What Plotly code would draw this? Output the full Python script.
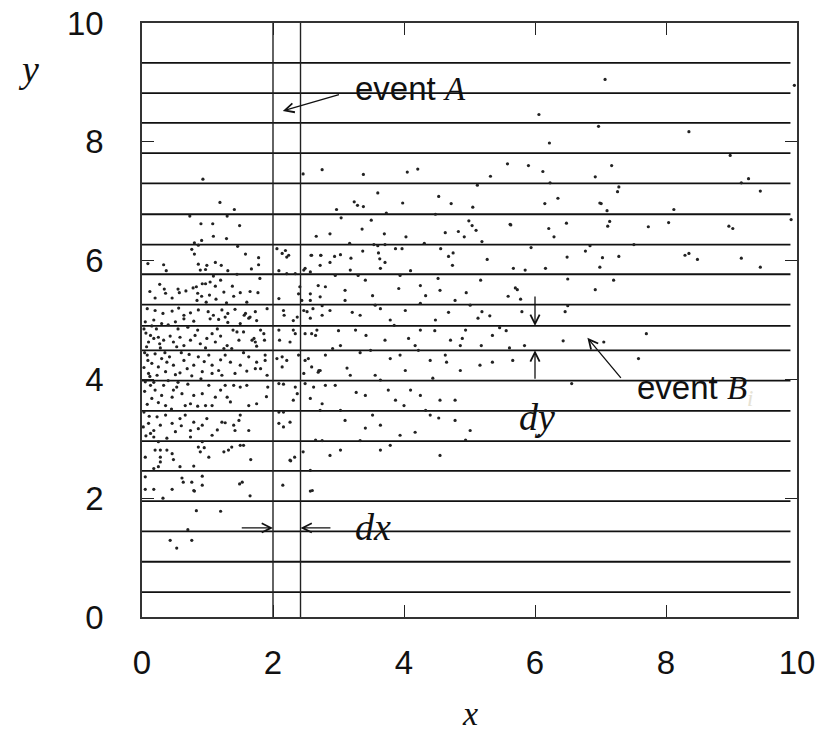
import plotly.graph_objects as go

# ---------------- data ----------------
# horizontal band boundaries (y values)
band_levels = [0.42, 0.93, 1.44, 1.95, 2.46, 2.96, 3.47, 3.98, 4.49, 4.90,
               5.26, 5.77, 6.27, 6.78, 7.30, 7.81, 8.32, 8.82, 9.33]
band_x_range = [0.0, 9.9]
# vertical strip boundaries (x values)
strip_levels = [2.0, 2.42]

x_ticks = [0, 2, 4, 6, 8, 10]
y_ticks = [0, 2, 4, 6, 8, 10]

# scatter dots (x, y)
dots = [
    (0.93,7.37),(1.19,6.98),(1.41,6.86),(0.73,6.75),(1.30,6.75),(0.90,6.62),(1.08,6.62),(1.49,6.59),
    (1.09,6.41),(1.29,6.37),(0.91,6.34),(0.80,6.30),(0.86,6.26),(1.46,6.24),(0.76,6.19),(0.80,6.11),
    (1.58,6.11),(1.78,6.05),(0.09,5.95),(0.33,5.93),(0.86,5.94),(0.99,5.92),(1.12,5.97),(1.21,5.92),
    (0.37,5.83),(0.89,5.84),(0.97,5.85),(1.31,5.83),(1.67,5.86),(1.78,5.93),(1.09,5.74),(1.45,5.77),
    (0.27,5.60),(0.12,5.48),(0.20,5.37),(0.34,5.52),(0.36,5.45),(0.46,5.37),(0.55,5.52),(0.57,5.46),
    (0.67,5.49),(0.78,5.54),(0.83,5.56),(0.92,5.61),(0.97,5.61),(1.04,5.64),(1.12,5.57),(1.20,5.67),
    (0.85,5.45),(0.91,5.40),(1.03,5.42),(1.13,5.35),(1.25,5.47),(1.38,5.57),(1.40,5.40),(1.50,5.46),
    (1.65,5.48),(1.77,5.46),(0.84,5.33),(0.98,5.30),(1.29,5.29),(1.60,5.30),(0.08,5.19),(0.20,5.16),
    (0.32,5.11),(0.46,5.15),(0.56,5.20),(0.64,5.08),(0.74,5.12),(0.86,5.17),(1.01,5.14),(1.09,5.08),
    (1.22,5.17),(1.31,5.11),(1.42,5.18),(1.56,5.08),(1.73,5.14),
    (0.05,4.97),(0.18,5.00),(0.30,4.94),(0.51,4.97),(0.64,5.02),(0.79,4.98),(1.04,5.02),(1.17,5.01),
    (1.27,5.05),(1.31,4.96),(1.50,4.94),(1.63,5.03),
    (0.13,4.74),(0.18,4.69),(0.10,4.63),(0.25,4.71),(0.33,4.66),(0.43,4.73),(0.48,4.63),(0.58,4.71),
    (0.64,4.57),(0.74,4.66),(0.81,4.74),(0.89,4.60),(0.99,4.69),(1.07,4.77),(1.12,4.63),(1.20,4.73),
    (1.30,4.57),(1.39,4.83),(1.48,4.66),(1.55,4.80),(1.68,4.66),(1.75,4.56),(0.07,4.55),(0.28,4.53),
    (0.53,4.55),(0.97,4.53),(1.25,4.52),(1.37,4.52),
    (0.08,4.41),(0.20,4.43),(0.30,4.35),(0.15,4.27),(0.25,4.21),(0.38,4.29),(0.48,4.24),(0.64,4.32),
    (0.69,4.18),(0.79,4.24),(0.86,4.38),(1.02,4.41),(1.07,4.24),(1.17,4.15),(1.27,4.41),(1.35,4.29),
    (1.50,4.24),(1.63,4.38),(1.75,4.29),(0.10,4.10),(0.23,4.07),(0.36,4.13),(0.51,4.08),(0.58,4.11),
    (0.76,4.06),(0.92,4.13),(1.07,4.10),(1.22,4.07),(1.42,4.10),(1.60,4.14),(1.73,4.18),(0.90,4.01),
    (0.05,3.96),(0.13,3.90),(0.20,3.82),(0.30,3.73),(0.15,3.68),(0.25,3.61),(0.36,3.56),(0.46,3.70),
    (0.53,3.87),(0.61,3.76),(0.66,3.56),(0.74,3.59),(0.79,3.73),(0.92,3.76),(0.97,3.56),(1.02,3.90),
    (1.07,3.56),(1.20,3.82),(1.27,3.90),(1.30,3.70),(1.40,3.90),(1.50,3.87),(1.60,3.90),(1.63,3.56),
    (0.33,3.90),(0.48,3.82),
    (0.10,3.26),(0.18,3.14),(0.13,3.09),(0.23,3.37),(0.28,3.23),(0.36,3.40),(0.46,3.26),(0.51,3.12),
    (0.58,3.34),(0.66,3.40),(0.74,3.14),(0.79,3.28),(0.86,3.17),(0.92,3.23),(0.99,3.34),(1.07,3.06),
    (1.22,3.28),(1.27,3.27),(1.40,3.23),(1.48,3.31),(1.50,3.40),(1.42,3.14),(1.63,3.14),(0.74,3.03),
    (0.38,3.01),(0.18,3.03),
    (0.05,2.69),(0.20,2.81),(0.28,2.81),(0.28,2.69),(0.38,2.81),(0.46,2.75),(0.48,2.65),(0.28,2.61),
    (0.25,2.53),(0.18,2.50),(0.58,2.53),(0.79,2.54),(0.86,2.86),(0.89,2.78),(0.92,2.95),(1.02,2.69),
    (1.25,2.78),(1.32,2.81),(1.37,2.86),(1.50,2.89),(1.55,2.89),(1.66,2.65),
    (0.05,2.36),(0.05,2.15),(0.18,2.15),(0.32,2.00),(0.46,2.15),(0.61,2.34),(0.63,2.27),(0.76,2.27),
    (0.79,2.13),(0.80,2.12),(0.92,2.37),(0.92,2.22),(1.49,2.24),(1.53,2.27),(1.65,2.04),
    (0.83,1.79),(1.20,1.78),(0.70,1.47),(0.43,1.29),(0.76,1.29),(0.53,1.16),
    # dense left edge of the cluster
    (0.03,4.85),(0.06,4.78),(0.04,4.45),(0.09,4.32),(0.03,4.20),(0.12,4.05),(0.04,3.80),(0.08,3.58),
    (0.03,3.45),(0.11,3.38),(0.02,3.20),(0.06,3.05),(0.15,4.90),(0.22,4.85),(0.27,4.60),(0.35,4.45),
    (0.40,4.92),(0.42,4.38),(0.55,4.85),(0.60,4.45),(0.70,4.88),(0.72,4.42),(0.85,4.83),(0.95,4.30),
    (1.15,4.85),(1.20,4.33),(1.45,4.80),(1.55,4.45),(0.18,3.95),(0.40,3.98),(0.55,3.95),(0.70,3.92),
    (0.85,3.55),(1.12,3.70),(1.35,3.62),(0.45,3.50),(0.60,3.22),(0.25,2.95),(1.15,3.15),(0.95,2.85),
    # strip x 1.8 - 2.9
    (2.06,6.20),(2.14,6.12),(2.19,6.17),(2.24,6.09),(2.21,6.06),(2.59,6.09),(2.73,6.09),(2.47,5.84),
    (2.57,5.81),(2.34,5.78),(2.21,5.78),(2.09,5.83),(1.80,5.70),(2.41,5.56),(2.39,5.44),(2.57,5.44),
    (2.72,5.39),(2.44,5.33),(2.09,5.36),(2.80,5.56),(2.16,5.16),(2.17,5.08),(1.91,5.19),(2.47,5.16),
    (2.52,5.14),(2.61,5.19),(2.75,5.08),(2.37,5.05),(2.31,4.99),(1.75,4.99),(1.58,5.11),(1.65,5.05),
    (2.09,4.83),(2.31,4.83),(2.34,4.77),(2.26,4.63),(2.10,4.66),(2.49,4.77),(2.59,4.77),(2.67,4.83),
    (1.87,4.66),(1.86,4.77),(1.81,4.83),(1.71,4.69),(1.73,4.63),(2.06,4.35),(2.14,4.38),(2.21,4.32),
    (2.39,4.41),(2.54,4.35),(2.59,4.21),(2.70,4.15),(2.80,4.41),(2.14,4.21),(2.47,4.10),(1.88,4.41),
    (1.88,4.32),(1.81,4.18),(1.91,4.07),(2.09,3.93),(2.16,3.92),(2.34,3.87),(2.37,3.76),(2.31,3.65),
    (2.49,3.93),(2.62,3.87),(2.75,3.59),(1.92,3.87),(1.90,3.71),(1.75,3.59),(2.09,3.45),(2.16,3.45),
    (2.09,3.26),(2.16,3.20),(2.26,3.28),(2.75,2.97),(2.26,2.64),(2.33,2.69),(2.46,2.78),(2.27,2.63),
    (2.15,2.22),(2.57,2.12),
    # middle region x 2.5 - 5.2
    (2.72,5.92),(2.95,5.75),(3.18,5.84),(3.41,5.67),(3.64,5.87),(3.94,5.75),(4.25,5.58),(4.55,5.50),
    (4.78,5.33),(5.01,5.25),(2.57,5.33),(2.87,5.16),(3.10,5.33),(3.33,5.08),(3.56,5.25),(3.79,5.00),
    (4.02,5.16),(4.25,4.83),(4.48,5.00),(4.71,4.66),(4.94,4.83),(2.65,4.74),(3.03,4.57),(3.26,4.83),
    (3.49,4.49),(3.71,4.66),(3.94,4.41),(4.17,4.57),(4.40,4.32),(4.63,4.41),(4.86,4.15),(5.16,4.24),
    (2.72,4.15),(2.95,3.90),(3.18,4.07),(3.41,3.73),(3.64,3.99),(3.87,3.65),(4.10,3.82),(4.33,3.48),
    (4.55,3.65),(4.78,3.31),(5.01,3.14),(2.72,3.48),(3.10,3.31),(3.33,2.97),(3.64,3.23),(3.94,3.06),
    (4.40,3.40),(3.64,2.81),(2.87,2.72),(2.60,2.13),(2.57,2.47),
    (2.49,5.87),(2.69,5.58),(2.87,5.97),(3.10,5.50),(3.30,5.75),(3.52,5.41),(3.71,5.97),(3.92,5.53),
    (4.10,5.83),(4.33,5.41),(4.52,5.70),(4.74,5.92),(4.95,5.46),(5.17,5.67),
    (2.57,5.03),(2.75,5.24),(3.00,4.82),(3.21,5.13),(3.42,4.74),(3.64,5.19),(3.85,4.91),(4.07,4.69),
    (4.25,5.28),(4.47,4.82),(4.68,5.13),(4.89,4.69),(5.13,5.03),(5.35,4.74),
    (2.49,4.32),(2.69,4.12),(2.91,4.52),(3.13,4.19),(3.33,4.45),(3.56,4.07),(3.79,4.35),(4.02,4.15),
    (4.22,4.49),(4.44,4.02),(4.65,4.29),(4.86,4.57),
    (2.57,3.68),(2.80,3.90),(3.03,3.48),(3.27,3.78),(3.52,3.40),(3.76,3.82),(4.00,3.56),(4.25,3.73),
    (4.53,3.35),(4.78,3.65),
    (2.65,2.98),(3.03,2.81),(3.41,3.18),(3.79,2.89),(4.17,3.11),(4.55,2.72),(4.94,2.98),
    # upper region
    (6.06,8.46),(6.22,7.98),(6.97,8.26),(2.46,7.46),(2.75,7.53),(3.38,7.45),(4.05,7.49),(4.21,7.54),
    (5.32,7.42),(5.58,7.63),(5.90,7.60),(6.12,7.50),(6.23,7.31),(6.92,7.41),(5.12,7.27),(3.60,7.14),
    (2.97,6.86),(3.24,6.99),(3.29,6.93),(3.38,6.91),(3.98,6.97),(4.53,7.08),(4.72,6.96),(5.05,6.90),
    (6.15,6.96),(6.35,7.05),(6.99,6.97),(3.73,6.80),(4.48,6.78),(3.04,6.72),(3.50,6.68),(2.66,6.41),
    (2.87,6.45),(3.36,6.53),(3.70,6.45),(4.03,6.40),(4.63,6.47),(4.83,6.49),(4.92,6.40),(4.99,6.67),
    (5.04,6.59),(5.10,6.51),(5.19,6.32),(5.62,6.61),(6.21,6.54),(6.29,6.40),(6.48,6.63),(3.17,6.29),
    (3.54,6.27),(3.60,6.25),(3.71,6.27),(3.87,6.20),(3.97,6.20),(4.31,6.29),(4.56,6.20),(4.75,6.13),
    (4.68,6.07),(5.94,6.22),(6.77,6.16),(6.84,6.25),(2.58,6.09),(2.73,6.09),(2.94,6.07),(3.03,6.10),
    (3.19,6.04),(3.37,6.16),(3.61,6.13),(3.63,6.03),(5.27,6.02),(6.49,6.06),
    (7.07,9.05),(9.96,8.95),(8.35,8.17),(8.98,7.77),(7.17,7.60),(9.15,7.31),(9.26,7.38),(7.28,7.24),
    (7.26,7.16),(9.44,7.17),(7.01,6.96),(7.10,6.84),(8.12,6.86),(7.14,6.66),(7.11,6.58),(7.73,6.57),
    (8.04,6.64),(8.96,6.58),(9.02,6.54),(9.91,6.69),(7.51,6.27),(8.29,6.09),(8.35,6.12),(8.48,6.02),
    (9.15,6.04),(7.03,6.05),(7.28,6.07),(6.99,5.89),(9.44,5.89),(7.20,5.67),(5.63,6.60),
    (5.67,5.87),(5.85,5.84),(6.16,5.87),(6.50,5.69),(5.70,5.54),(6.92,5.51),
    # right-middle region
    (5.73,5.51),(5.59,5.40),(5.78,5.35),(6.50,5.24),(6.46,5.14),(5.80,5.14),(5.31,5.07),(5.19,5.14),
    (5.46,4.87),(5.56,4.82),(7.70,4.77),(6.43,4.65),(7.05,4.63),(5.84,4.57),(5.61,4.53),(5.18,4.57),
    (5.35,4.29),(5.66,4.32),(7.58,4.35),(6.56,3.93),(6.06,3.06),
]
dots_x = [p[0] for p in dots]
dots_y = [p[1] for p in dots]

# ---------------- figure ----------------
fig = go.Figure()

# horizontal band lines
hx, hy = [], []
for lv in band_levels:
    hx += [band_x_range[0], band_x_range[1], None]
    hy += [lv, lv, None]
fig.add_trace(go.Scatter(x=hx, y=hy, mode="lines",
                         line=dict(color="#111111", width=1.8),
                         hoverinfo="skip", showlegend=False))

# vertical strip lines
vx, vy = [], []
for lv in strip_levels:
    vx += [lv, lv, None]
    vy += [0, 10, None]
fig.add_trace(go.Scatter(x=vx, y=vy, mode="lines",
                         line=dict(color="#222222", width=1.4),
                         hoverinfo="skip", showlegend=False))

# dots
fig.add_trace(go.Scatter(x=dots_x, y=dots_y, mode="markers",
                         marker=dict(size=3.2, color="#222222"),
                         showlegend=False))

tick_font = dict(family="Liberation Sans, Arial, sans-serif", size=33, color="#111111")
serif_it = "Liberation Serif, Times New Roman, serif"

fig.update_xaxes(range=[0, 10], tickvals=x_ticks, ticktext=[str(v) for v in x_ticks],
                 ticks="inside", ticklen=12, tickwidth=1.3, tickcolor="#222",
                 showline=True, linecolor="#333", linewidth=1.6, mirror="ticks",
                 showgrid=False, zeroline=False, tickfont=tick_font,
                 ticklabelstandoff=16, automargin=False, ticklabeloverflow="allow")
fig.update_yaxes(range=[0, 10], tickvals=y_ticks, ticktext=[str(v) for v in y_ticks],
                 ticks="inside", ticklen=12, tickwidth=1.3, tickcolor="#222",
                 showline=True, linecolor="#333", linewidth=1.6, mirror="ticks",
                 showgrid=False, zeroline=False, tickfont=tick_font,
                 ticklabelstandoff=30, automargin=False, ticklabeloverflow="allow")

arrow_common = dict(xref="x", yref="y", axref="x", ayref="y", text="",
                    showarrow=True, arrowhead=5, arrowsize=1.4, arrowwidth=1.3,
                    arrowcolor="#111")
annotations = [
    # event A arrow
    dict(x=2.15, y=8.52, ax=3.03, ay=8.80, **arrow_common),
    # event B arrow
    dict(x=6.80, y=4.70, ax=7.33, ay=4.00, **arrow_common),
    # dy arrows
    dict(x=6.0, y=4.90, ax=6.0, ay=5.42, **arrow_common),
    dict(x=6.0, y=4.49, ax=6.0, ay=3.985, **arrow_common),
    # dx arrows
    dict(x=2.0, y=1.5, ax=1.5, ay=1.5, **arrow_common),
    dict(x=2.42, y=1.5, ax=2.9, ay=1.5, **arrow_common),
    # texts
    dict(x=3.22, y=8.90, xref="x", yref="y", xanchor="left", yanchor="middle",
         showarrow=False,
         text="event <span style='font-family:Liberation Serif'><i>A</i></span>",
         font=dict(family="Liberation Sans, Arial, sans-serif", size=33, color="#111")),
    dict(x=7.52, y=3.83, xref="x", yref="y", xanchor="left", yanchor="middle",
         showarrow=False,
         text="event <span style='font-family:Liberation Serif'><i>B</i></span>"
              "<span style='font-family:Liberation Serif;fill:#e6e2d4'><sub><i>i</i></sub></span>",
         font=dict(family="Liberation Sans, Arial, sans-serif", size=33, color="#111")),
    dict(x=6.03, y=3.36, xref="x", yref="y", xanchor="center", yanchor="middle",
         showarrow=False, text="<i>dy</i>",
         font=dict(family=serif_it, size=38, color="#111")),
    dict(x=3.53, y=1.52, xref="x", yref="y", xanchor="center", yanchor="middle",
         showarrow=False, text="<i>dx</i>",
         font=dict(family=serif_it, size=38, color="#111")),
    # axis titles
    dict(x=-0.174, y=0.922, xref="paper", yref="paper", xanchor="center", yanchor="middle",
         showarrow=False, text="<i>y</i>",
         font=dict(family=serif_it, size=38, color="#111")),
    dict(x=0.501, y=-0.163, xref="paper", yref="paper", xanchor="center", yanchor="middle",
         showarrow=False, text="<i>x</i>",
         font=dict(family=serif_it, size=34, color="#111")),
]

# the page body adds an 8px offset, so the figure is sized to fit the window
fig.update_layout(width=819, height=732,
                  margin=dict(l=134, r=30, t=15, b=123),
                  plot_bgcolor="white", paper_bgcolor="white",
                  annotations=annotations, showlegend=False)

fig.write_html("out.html")
